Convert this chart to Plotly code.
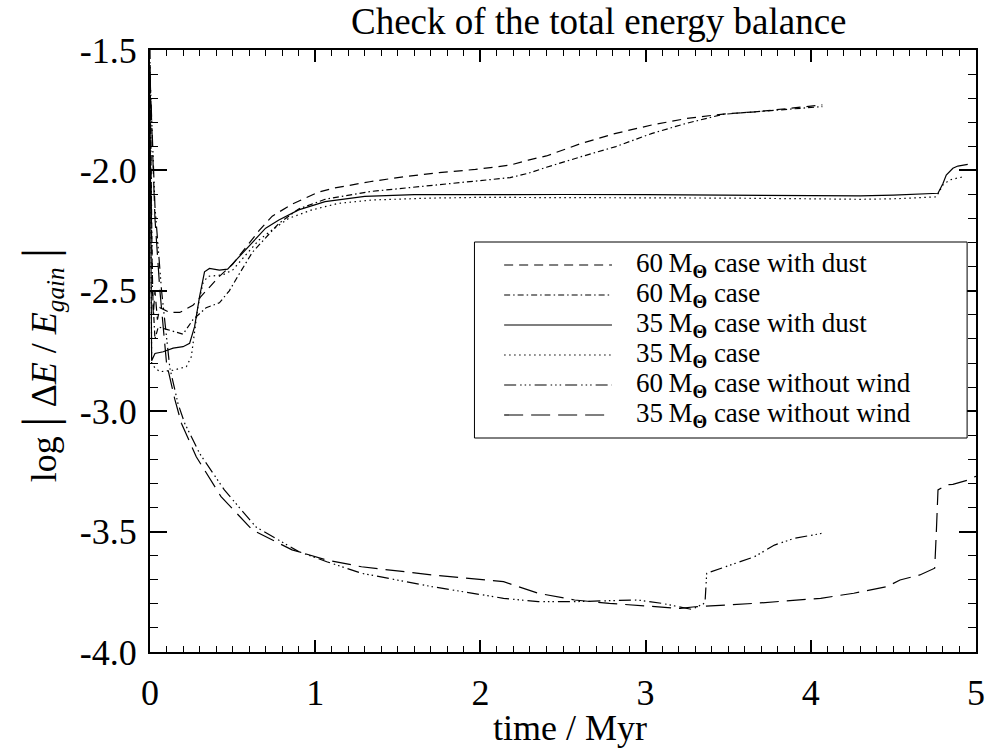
import plotly.graph_objects as go

# ---- data: time in Myr, log|dE/E_gain| ----
t_60_dust = [0, 0.01, 0.02, 0.03, 0.045, 0.06, 0.12, 0.18, 0.26, 0.34, 0.42, 0.50, 0.58, 0.66, 0.74,
             0.86, 1.02, 1.11, 1.33, 1.54, 1.75, 1.97, 2.18, 2.29, 2.40, 2.61, 2.82, 3.04, 3.25,
             3.47, 3.68, 3.89, 4.07]
e_60_dust = [-1.5, -2.3, -2.6, -2.5, -2.62, -2.57, -2.59, -2.59, -2.56, -2.50, -2.44, -2.39, -2.32,
             -2.25, -2.19, -2.14, -2.09, -2.074, -2.047, -2.026, -2.009, -1.996, -1.978, -1.957,
             -1.940, -1.888, -1.846, -1.811, -1.784, -1.766, -1.756, -1.742, -1.728]

t_60 = [0, 0.015, 0.03, 0.05, 0.10, 0.20, 0.26, 0.34, 0.42, 0.48, 0.54, 0.62, 0.70, 0.78, 0.90,
        1.06, 1.33, 1.54, 1.75, 1.97, 2.18, 2.29, 2.40, 2.61, 2.82, 3.04, 3.25, 3.47, 3.68,
        3.89, 4.07]
e_60 = [-1.6, -2.5, -2.7, -2.65, -2.66, -2.68, -2.62, -2.57, -2.55, -2.50, -2.43, -2.34, -2.28,
        -2.22, -2.16, -2.12, -2.088, -2.074, -2.061, -2.047, -2.030, -2.012, -1.987, -1.943,
        -1.901, -1.846, -1.804, -1.767, -1.756, -1.745, -1.735]

t_35_dust = [0, 0.01, 0.03, 0.08, 0.14, 0.20, 0.24, 0.27, 0.30, 0.33, 0.36, 0.42, 0.47, 0.54,
             0.62, 0.70, 0.78, 0.90, 1.06, 1.3, 1.6, 2.0, 2.5, 3.0, 3.5, 4.0, 4.3, 4.5, 4.77,
             4.80, 4.82, 4.86, 4.89, 4.95]
e_35_dust = [-1.7, -2.79, -2.76, -2.753, -2.738, -2.732, -2.718, -2.649, -2.524, -2.421, -2.407,
             -2.414, -2.41, -2.358, -2.296, -2.240, -2.206, -2.164, -2.130, -2.108, -2.101,
             -2.100, -2.100, -2.101, -2.102, -2.104, -2.106, -2.103, -2.095, -2.054, -2.019,
             -1.991, -1.982, -1.975]

t_35 = [0, 0.01, 0.03, 0.06, 0.14, 0.22, 0.25, 0.27, 0.29, 0.32, 0.35, 0.44, 0.50, 0.58, 0.66,
        0.74, 0.84, 0.98, 1.14, 1.34, 1.7, 2.0, 2.5, 3.0, 3.5, 4.0, 4.3, 4.5, 4.76, 4.80, 4.84,
        4.88, 4.93]
e_35 = [-1.55, -2.8, -2.82, -2.836, -2.83, -2.815, -2.774, -2.677, -2.566, -2.469, -2.44, -2.434,
        -2.414, -2.351, -2.289, -2.247, -2.199, -2.164, -2.137, -2.123, -2.115, -2.112, -2.112,
        -2.113, -2.115, -2.118, -2.12, -2.118, -2.11, -2.06, -2.04, -2.033, -2.026]

t_60_nowind = [0, 0.03, 0.07, 0.12, 0.17, 0.21, 0.30, 0.45, 0.64, 0.90, 1.07, 1.28, 1.71, 2.14,
               2.35, 2.57, 2.78, 2.95, 3.10, 3.28, 3.35, 3.36, 3.37, 3.46, 3.66, 3.78, 3.90, 4.07]
e_60_nowind = [-1.6, -2.15, -2.5, -2.82, -2.97, -3.05, -3.175, -3.327, -3.48, -3.583, -3.625,
               -3.673, -3.729, -3.777, -3.791, -3.791, -3.787, -3.784, -3.798, -3.823, -3.80,
               -3.791, -3.673, -3.652, -3.604, -3.556, -3.528, -3.507]

t_35_nowind = [0, 0.03, 0.06, 0.10, 0.15, 0.19, 0.28, 0.43, 0.62, 0.86, 1.07, 1.28, 1.71, 2.14,
               2.20, 2.35, 2.57, 2.78, 3.0, 3.21, 3.30, 3.66, 4.06, 4.26, 4.46, 4.54, 4.66, 4.75,
               4.76, 4.77, 4.82, 4.86, 4.95, 5.0]
e_35_nowind = [-1.6, -2.2, -2.5, -2.8, -2.95, -3.05, -3.189, -3.355, -3.493, -3.576, -3.618,
               -3.646, -3.680, -3.708, -3.722, -3.756, -3.784, -3.798, -3.809, -3.819, -3.812,
               -3.798, -3.777, -3.756, -3.729, -3.701, -3.68, -3.652, -3.50, -3.327, -3.306,
               -3.304, -3.286, -3.27]

labels = ["60", "60", "35", "35", "60", "35"]
suffixes = ["case with dust", "case", "case with dust", "case",
            "case without wind", "case without wind"]
dashes = ["9px,6px", "6px,3px,1.5px,3px", "solid", "1.5px,3.5px",
          "12px,4px,1.5px,3px,1.5px,3px,1.5px,4px", "19px,8px"]

x_ticks = [0, 1, 2, 3, 4, 5]
y_ticks = [-4.0, -3.5, -3.0, -2.5, -2.0, -1.5]

series = [(t_60_dust, e_60_dust), (t_60, e_60), (t_35_dust, e_35_dust), (t_35, e_35),
          (t_60_nowind, e_60_nowind), (t_35_nowind, e_35_nowind)]

FONT = "Liberation Serif"

fig = go.Figure()
for (tx, ey), d in zip(series, dashes):
    fig.add_trace(go.Scatter(x=tx, y=ey, mode="lines", showlegend=False,
                             line=dict(color="black", width=1.2, dash=d)))

# plot frame geometry in pixels (used to place the hand-drawn legend)
W, H = 994, 751
L, R, T, B = 150, 9, 50, 99
pw, ph = W - L - R, H - T - B


def px(xp):
    return (xp - L) / pw


def py(yp):
    return (H - B - yp) / ph


shapes = [dict(type="rect", xref="paper", yref="paper",
               x0=px(478), x1=px(976), y0=py(438), y1=py(242),
               line=dict(color="black", width=1), fillcolor="white", layer="above")]
annotations = []
row0, dy = 265, 30
for i, (lab, suf, d) in enumerate(zip(labels, suffixes, dashes)):
    yy = py(row0 + i * dy)
    shapes.append(dict(type="line", xref="paper", yref="paper",
                       x0=px(508), x1=px(617), y0=yy, y1=yy, layer="above",
                       line=dict(color="black", width=1.2, dash=d)))
    annotations.append(dict(xref="paper", yref="paper", x=px(639), y=yy,
                            xanchor="left", yanchor="middle", showarrow=False,
                            text=f"{lab}\u2009M<sub><b>\u0398</b></sub> {suf}",
                            font=dict(family=FONT, size=27, color="black")))

annotations.append(dict(xref="paper", yref="paper", x=px(575), y=py(750), xanchor="center",
                        yanchor="bottom", showarrow=False, text="time / Myr",
                        font=dict(family=FONT, size=36, color="black")))
annotations.append(dict(xref="paper", yref="paper", x=px(40), y=py(365), xanchor="center",
                        yanchor="middle", showarrow=False, textangle=-90,
                        text='log<span style="font-size:48px">\u2009|\u2009</span>\u0394<i>E</i> / '
                             '<i>E</i><sub><i>gain</i></sub><span style="font-size:48px">\u2009|</span>',
                        font=dict(family=FONT, size=36, color="black")))
annotations.append(dict(xref="paper", yref="paper", x=px(604), y=py(22), xanchor="center",
                        yanchor="middle", showarrow=False,
                        text="Check of the total energy balance",
                        font=dict(family=FONT, size=37, color="black")))

fig.update_layout(
    width=W, height=H,
    margin=dict(l=L, r=R, t=T, b=B),
    paper_bgcolor="white", plot_bgcolor="white",
    font=dict(family=FONT, color="black"),
    shapes=shapes, annotations=annotations,
)
fig.update_xaxes(range=[0, 5], tickvals=x_ticks, ticktext=[str(v) for v in x_ticks],
                 ticks="inside", ticklen=12, tickwidth=1.5, tickcolor="black",
                 minor=dict(dtick=0.1, ticks="inside", ticklen=6, tickwidth=1.2, tickcolor="black"),
                 showline=True, linecolor="black", linewidth=2, mirror="ticks",
                 showgrid=False, zeroline=False, ticklabelstandoff=8,
                 tickfont=dict(family=FONT, size=36, color="black"))
fig.update_yaxes(range=[-4.0, -1.5], tickvals=y_ticks, ticktext=[f"{v:.1f}" for v in y_ticks],
                 ticks="inside", ticklen=17, tickwidth=1.5, tickcolor="black",
                 minor=dict(dtick=0.1, ticks="inside", ticklen=8, tickwidth=1.2, tickcolor="black"),
                 showline=True, linecolor="black", linewidth=2, mirror="ticks",
                 showgrid=False, zeroline=False, ticklabelstandoff=4,
                 tickfont=dict(family=FONT, size=36, color="black"))

fig.write_html("out.html")
